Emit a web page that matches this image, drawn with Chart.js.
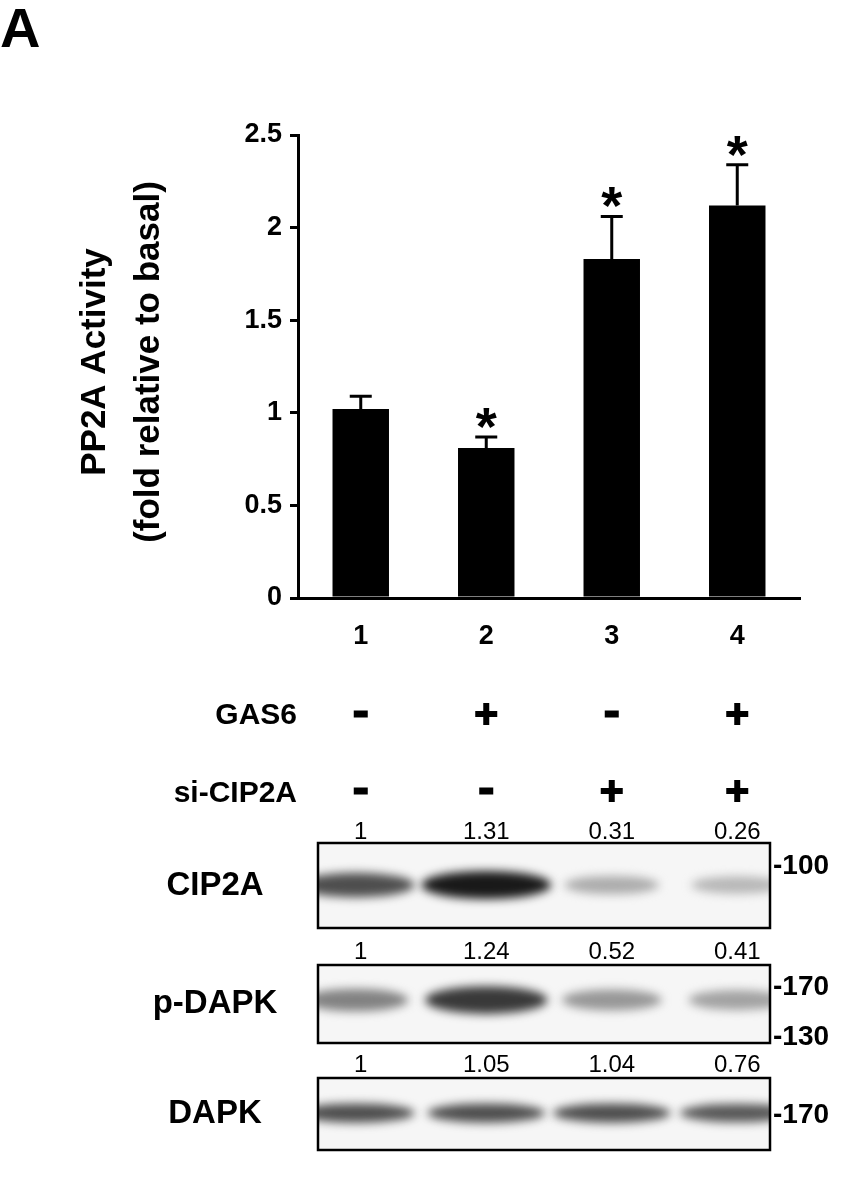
<!DOCTYPE html>
<html><head><meta charset="utf-8">
<script src="https://cdn.jsdelivr.net/npm/chart.js@4"></script>
<style>html,body{margin:0;padding:0;background:#fff}#w{width:863px;height:1178px}</style>
</head><body><div id="w"><canvas id="c"></canvas></div>
<script>
const categories = ["1","2","3","4"];
const values = [1.02, 0.81, 1.83, 2.12];
const errors = [0.07, 0.06, 0.23, 0.22];
const significant = [false, true, true, true];
const yTicks = [0,0.5,1,1.5,2,2.5];
const gas6 = ["-","+","-","+"];
const siCIP2A = ["-","-","+","+"];
const cip2aQuant = ["1","1.31","0.31","0.26"];
const pdapkQuant = ["1","1.24","0.52","0.41"];
const dapkQuant = ["1","1.05","1.04","0.76"];
const cip2aBand = [0.75, 1, 0.3, 0.25];
const pdapkBand = [0.5, 0.85, 0.4, 0.35];
const dapkBand = [0.75, 0.75, 0.75, 0.7];

const F = '"Liberation Sans", Arial, sans-serif';
const extras = {
  id:'extras',
  afterDatasetsDraw(chart){
    const ctx = chart.ctx, x = chart.scales.x, y = chart.scales.y;
    ctx.save();
    ctx.strokeStyle='#000'; ctx.fillStyle='#000'; ctx.lineWidth=3;
    values.forEach((v,i)=>{
      const cx = x.getPixelForValue(i), top = y.getPixelForValue(v), e = y.getPixelForValue(v+errors[i]);
      ctx.beginPath(); ctx.moveTo(cx,top); ctx.lineTo(cx,e); ctx.moveTo(cx-11,e); ctx.lineTo(cx+11,e); ctx.stroke();
      if(significant[i]){ ctx.font='bold 54px '+F; ctx.textAlign='center'; ctx.textBaseline='alphabetic'; ctx.fillText('*',cx,e+8); }
    });
    ctx.font='bold 56px '+F; ctx.textAlign='left'; ctx.textBaseline='top'; ctx.fillText('A',0,4);
    ctx.save(); ctx.translate(95,362); ctx.rotate(-Math.PI/2); ctx.font='bold 35px '+F; ctx.textAlign='center'; ctx.textBaseline='middle';
    ctx.fillText('PP2A Activity',0,0); ctx.fillText('(fold relative to basal)',0,54); ctx.restore();
    ctx.font='bold 30px '+F; ctx.textAlign='right'; ctx.textBaseline='middle';
    ctx.fillText('GAS6',297,716); ctx.fillText('si-CIP2A',297,794);
    const cols = categories.map((_,i)=>x.getPixelForValue(i));
    const sign=(s,cx,cy)=>{ if(s==='+'){ctx.fillRect(cx-11,cy-3,22,6); ctx.fillRect(cx-3,cy-11,6,22);} else ctx.fillRect(cx-7,cy-3.5,14,7); };
    gas6.forEach((s,i)=>sign(s,cols[i],714)); siCIP2A.forEach((s,i)=>sign(s,cols[i],791));
    const blot=(label,quant,band,top,bot,qy,bandY,bh,marks)=>{
      ctx.font='24px '+F; ctx.textAlign='center'; ctx.textBaseline='middle'; ctx.fillStyle='#000';
      quant.forEach((q,i)=>ctx.fillText(q,cols[i],qy));
      ctx.fillStyle='#f6f6f6'; ctx.fillRect(318,top,452,bot-top);
      ctx.save(); ctx.beginPath(); ctx.rect(318,top,452,bot-top); ctx.clip();
      ctx.filter='blur(5px)';
      band.forEach((b,i)=>{ const g=Math.round(235-210*b); ctx.fillStyle=`rgb(${g},${g},${g})`;
        ctx.beginPath(); ctx.ellipse(cols[i]+(i==0?-5:0),bandY,40+25*b,bh*(0.5+0.5*b),0,0,Math.PI*2); ctx.fill(); });
      ctx.restore();
      ctx.strokeStyle='#000'; ctx.lineWidth=2.5; ctx.strokeRect(318,top,452,bot-top);
      ctx.fillStyle='#000'; ctx.font='bold 33px '+F; ctx.textAlign='center'; ctx.fillText(label,215,(top+bot)/2);
      ctx.font='bold 28px '+F; ctx.textAlign='left';
      marks.forEach(m=>ctx.fillText(m[0],773,m[1]));
    };
    blot('CIP2A',cip2aQuant,cip2aBand,843,928,832,885,14,[['-100',866]]);
    blot('p-DAPK',pdapkQuant,pdapkBand,965,1043,952,1000,15,[['-170',987],['-130',1037]]);
    blot('DAPK',dapkQuant,dapkBand,1078,1150,1065,1113,11,[['-170',1115]]);
    ctx.restore();
  }
};
new Chart(document.getElementById('c'),{
  type:'bar',
  data:{labels:categories,datasets:[{data:values,backgroundColor:'#000',barPercentage:0.9,categoryPercentage:0.5}]},
  options:{responsive:true,maintainAspectRatio:false,animation:false,devicePixelRatio:1,
    layout:{padding:{left:0,top:135,right:63,bottom:520}},
    plugins:{legend:{display:false},tooltip:{enabled:false}},
    scales:{
      x:{grid:{display:false},border:{color:'#000',width:3},
        ticks:{color:'#000',font:{family:F,size:27,weight:'bold'},padding:14},
        afterFit(s){s.height=60;}},
      y:{min:0,max:2.5,afterBuildTicks(s){s.ticks=yTicks.map(v=>({value:v}));},
        grid:{display:true,drawOnChartArea:false,tickLength:8,color:'#000',lineWidth:3},border:{color:'#000',width:3},
        ticks:{color:'#000',font:{family:F,size:27,weight:'bold'},padding:8,callback:v=>String(v)},
        afterFit(s){s.width=298;}}
    }},
  plugins:[extras]
});
</script></body></html>
